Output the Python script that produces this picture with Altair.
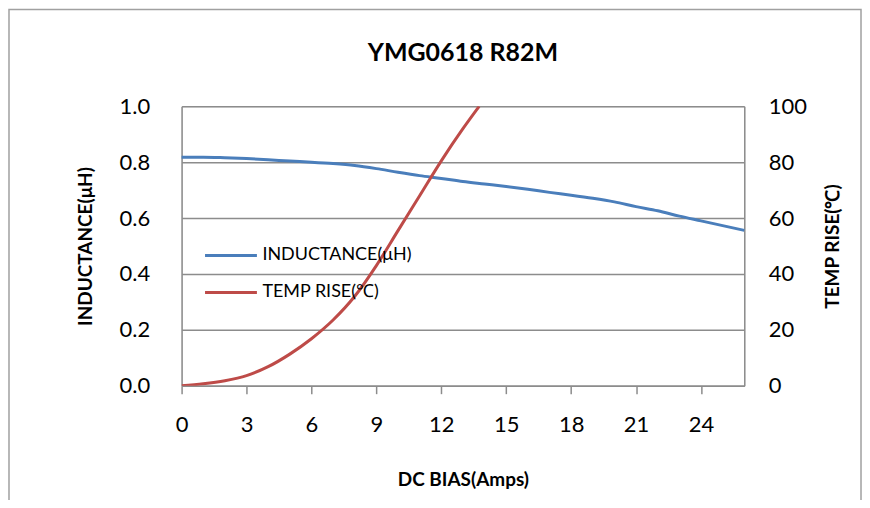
import altair as alt
import pandas as pd

# DC bias (A) sample points
ind_x = [0, 1, 2, 3, 4, 5, 6, 7, 8, 9, 10, 11, 12, 13, 14, 15, 16, 17, 18, 19, 20, 21, 22, 23, 24, 25, 26]
ind_y = [0.818, 0.818, 0.816, 0.813, 0.809, 0.804, 0.800, 0.795, 0.788, 0.777, 0.764, 0.752, 0.742,
         0.731, 0.722, 0.713, 0.703, 0.692, 0.682, 0.671, 0.658, 0.641, 0.626, 0.607, 0.590, 0.573, 0.556]

temp_x = [0, 1, 2, 3, 4, 5, 6, 7, 8, 9, 10, 11, 12, 13, 13.75]
temp_y = [0, 0.7, 1.8, 3.6, 6.8, 11.3, 16.8, 23.5, 32, 43, 55.5, 68, 80.5, 92, 100]

series_names = ["INDUCTANCE(μH)", "TEMP RISE(℃)"]
series_colors = ["#4a7ebb", "#be4b48"]
x_ticks = [0, 3, 6, 9, 12, 15, 18, 21, 24]
chart_title = "YMG0618 R82M"

FONT = "Lato"
GRID = "#8c8c8c"

ind_df = pd.DataFrame({"x": ind_x, "y": ind_y, "series": series_names[0]})
temp_df = pd.DataFrame({"x": temp_x, "y": temp_y, "series": series_names[1]})

color = alt.Color(
    "series:N",
    scale=alt.Scale(domain=series_names, range=series_colors),
    legend=alt.Legend(
        title=None, orient="none", legendX=22, legendY=122,
        symbolType="stroke", symbolSize=2704, symbolStrokeWidth=3,
        labelFont=FONT, labelFontSize=18, labelColor="#000000",
        labelOffset=4, rowPadding=-10, labelLimit=300,
    ),
)

xenc = alt.X(
    "x:Q",
    scale=alt.Scale(domain=[0, 26], nice=False),
    axis=alt.Axis(
        values=x_ticks, title="DC BIAS(Amps)", grid=False, labelFlush=False,
        domainColor=GRID, domainWidth=1.5, tickColor=GRID, tickWidth=1.5, tickSize=8,
        labelFont=FONT, labelFontSize=22, labelColor="#000000", labelPadding=21,
        titleFont=FONT, titleFontSize=19, titleFontWeight="bold", titleColor="#000000", titlePadding=35,
    ),
)

ind_line = alt.Chart(ind_df).mark_line(strokeWidth=3, interpolate="monotone").encode(
    x=xenc,
    y=alt.Y(
        "y:Q",
        scale=alt.Scale(domain=[0, 1.0], nice=False),
        axis=alt.Axis(
            orient="left", values=[0, 0.2, 0.4, 0.6, 0.8, 1.0], format=".1f",
            title="INDUCTANCE(μH)", grid=True, gridColor=GRID, gridWidth=1.5,
            ticks=False, domainColor=GRID, domainWidth=1.5,
            labelFont=FONT, labelFontSize=22, labelColor="#000000", labelPadding=32,
            titleFont=FONT, titleFontSize=19, titleFontWeight="bold", titleColor="#000000", titlePadding=24,
        ),
    ),
    color=color,
)

temp_line = alt.Chart(temp_df).mark_line(strokeWidth=3, interpolate="monotone", clip=True).encode(
    x=alt.X("x:Q", scale=alt.Scale(domain=[0, 26], nice=False)),
    y=alt.Y(
        "y:Q",
        scale=alt.Scale(domain=[0, 100], nice=False),
        axis=alt.Axis(
            orient="right", values=[0, 20, 40, 60, 80, 100],
            title="TEMP RISE(℃)", grid=False, ticks=False,
            domainColor=GRID, domainWidth=1.5,
            labelFont=FONT, labelFontSize=22, labelColor="#000000", labelPadding=24,
            titleFont=FONT, titleFontSize=19, titleFontWeight="bold", titleColor="#000000",
            titleAngle=270, titlePadding=36,
        ),
    ),
    color=color,
)

frame = alt.Chart(pd.DataFrame({"a": [0]})).mark_rect(
    fill=None, stroke="#a0a0a0", strokeWidth=1.5, clip=False
).encode(
    x=alt.value(-173), x2=alt.value(681), y=alt.value(-97), y2=alt.value(430)
)

title = alt.Chart(pd.DataFrame({"t": [chart_title]})).mark_text(
    font=FONT, fontSize=25, fontWeight="bold", color="#000000", align="center", baseline="middle", clip=False
).encode(text="t:N", x=alt.value(282), y=alt.value(-53))

chart = alt.layer(frame, title, ind_line, temp_line).resolve_scale(y="independent").properties(
    width=564, height=280,
    autosize=alt.AutoSizeParams(type="none"),
    padding={"left": 174, "top": 98, "right": 118, "bottom": 114},
).configure_view(stroke=None).configure(background="#ffffff")

chart.save("out.html", embed_options={"renderer": "svg", "actions": False})
